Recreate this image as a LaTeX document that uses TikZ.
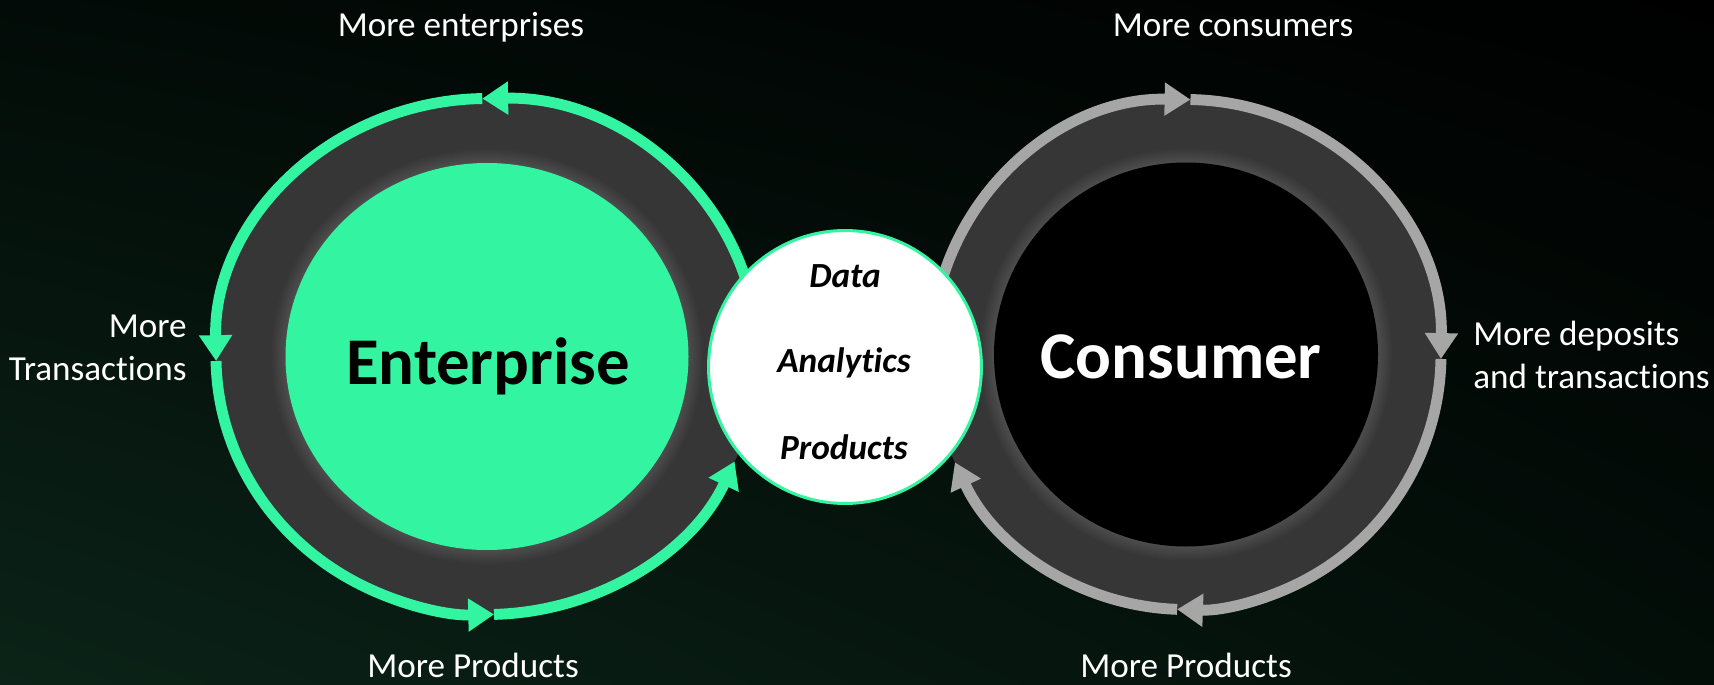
\documentclass[tikz,border=0pt]{standalone}
\usepackage{fontspec}
\setmainfont[Ligatures=NoCommon]{Carlito}
\usetikzlibrary{arrows.meta,shadings}

\definecolor{entgreen}{RGB}{51,245,161}
\definecolor{ringgray}{RGB}{54,54,54}
\definecolor{cyclegray}{RGB}{166,166,166}
\definecolor{bgLL}{RGB}{11,35,24}
\definecolor{bgUL}{RGB}{2,11,7}
\definecolor{bgLR}{RGB}{3,14,9}
\definecolor{bgUR}{RGB}{0,0,0}

\begin{document}
\begin{tikzpicture}[x=0.02cm,y=0.02cm,
  ringtip/.style={-{Triangle[length=14.7pt,width=18pt]}},
  entarc/.style={draw=entgreen,line width=6.2pt,ringtip},
  conarc/.style={draw=cyclegray,line width=6.2pt,ringtip},
  cyclelabel/.style={text=white,font=\fontsize{20}{24.4}\selectfont,inner sep=0pt},
  hubname/.style={font=\fontsize{38}{45}\selectfont\bfseries,inner sep=0pt,anchor=base},
  coreword/.style={font=\fontsize{20.1}{24}\selectfont\bfseries\itshape,inner sep=0pt,anchor=base},
  halo/.style={fill=white,opacity=0.02},
]
% canvas
\useasboundingbox (0,0) rectangle (1714,684);
\shade[shading=bilinear interpolation,lower left=bgLL,upper left=bgUL,
       lower right=bgLR,upper right=bgUR] (0,0) rectangle (1714,684);

% ---- enterprise cycle ----
\coordinate (ent) at (487,327.5);
\fill[ringgray] (ent) ellipse[x radius=271,y radius=258];
\foreach \k in {2,4,...,14}
  \fill[halo] (ent) ellipse[x radius=201.5+\k,y radius=193.5+\k];
\fill[entgreen] (ent) ellipse[x radius=201.5,y radius=193.5];
\draw[entarc] (ent) ++(5:271 and 258) arc[start angle=5,end angle=91,x radius=271,y radius=258];
\draw[entarc] (ent) ++(91:271 and 258) arc[start angle=91,end angle=181,x radius=271,y radius=258];
\draw[entarc] (ent) ++(181:271 and 258) arc[start angle=181,end angle=271.5,x radius=271,y radius=258];
\draw[entarc] (ent) ++(271.5:271 and 258) arc[start angle=271.5,end angle=336,x radius=271,y radius=258];

% ---- consumer cycle ----
\coordinate (con) at (1186,329.5);
\fill[ringgray] (con) circle[radius=255];
\foreach \k in {2,4,...,14}
  \fill[halo] (con) circle[radius=192+\k];
\fill[black] (con) circle[radius=192];
\draw[conarc] (con) ++(175:255) arc[start angle=175,end angle=89,radius=255];
\draw[conarc] (con) ++(89:255) arc[start angle=89,end angle=-1,radius=255];
\draw[conarc] (con) ++(-1:255) arc[start angle=-1,end angle=-92,radius=255];
\draw[conarc] (con) ++(-92:255) arc[start angle=-92,end angle=-155,radius=255];

% ---- shared core ----
\node[circle,draw=entgreen,line width=1.7pt,fill=white,minimum size=5.46cm,inner sep=0pt] (core) at (845,317) {};
\node[coreword] (data) at (845,397) {Data};
\node[coreword] (analytics) at (844,312) {Analytics};
\node[coreword] (products) at (844,225) {Products};

% ---- names ----
\node[hubname,text=black] (entname) at (488,300) {Enterprise};
\node[hubname,text=white] (conname) at (1181,306) {Consumer};

% ---- cycle labels ----
\node[cyclelabel,anchor=base] (moreent) at (461,647) {More enterprises};
\node[cyclelabel,anchor=base] (morecon) at (1233,647) {More consumers};
\node[cyclelabel,anchor=base] (entprod) at (473,7) {More Products};
\node[cyclelabel,anchor=base] (conprod) at (1186,7) {More Products};
\node[cyclelabel,anchor=base east,align=right] (moretx) at (187,304) {More\\Transactions};
\node[cyclelabel,anchor=base west,align=left] (moredep) at (1473,296) {More deposits\\and transactions};
\end{tikzpicture}
\end{document}
